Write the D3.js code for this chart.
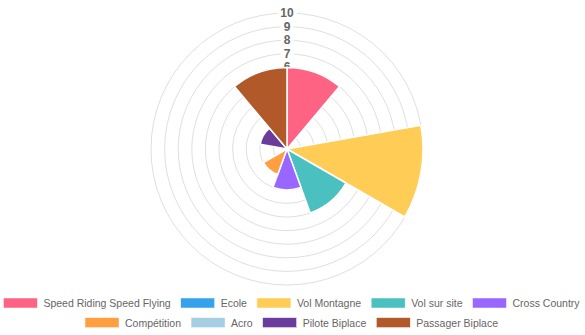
<!DOCTYPE html>
<html>
<head>
<meta charset="utf-8">
<script src="https://cdn.jsdelivr.net/npm/d3@7"></script>
<style>
html,body{margin:0;padding:0;background:#fff;}
svg{display:block;}
</style>
</head>
<body>
<svg id="chart" width="585" height="335"></svg>
<script>
const categories = ["Speed Riding Speed Flying","Ecole","Vol Montagne","Vol sur site","Cross Country","Compétition","Acro","Pilote Biplace","Passager Biplace"];
const values = [6, 0, 10, 5, 3, 2, 0, 2, 6];
const colors = ["#ff6384","#36a2eb","#ffcd56","#4bc0c0","#9966ff","#ff9f40","#a6cee3","#6a3d9a","#b15928"];
const ticks = [1,2,3,4,5,6,7,8,9,10];

const W = 585, H = 335;
const cx = 287, cy = 149, R = 136;
const svg = d3.select("#chart");
const font = "'Liberation Sans', Arial, Helvetica, sans-serif";

const r = d3.scaleLinear().domain([0, 10]).range([0, R]);
const angle = d3.scaleBand().domain(categories).range([0, 2 * Math.PI]).padding(0);

const g = svg.append("g").attr("transform", `translate(${cx},${cy})`);

// grid circles
g.selectAll("circle.grid").data(ticks).enter().append("circle")
  .attr("class", "grid")
  .attr("r", d => r(d))
  .attr("fill", "none")
  .attr("stroke", "rgba(0,0,0,0.13)")
  .attr("stroke-width", 1);

// tick labels with backdrops
const tl = g.selectAll("g.tick").data(ticks).enter().append("g").attr("class", "tick")
  .attr("transform", d => `translate(0,${-r(d)})`);
tl.append("text")
  .attr("text-anchor", "middle")
  .attr("dominant-baseline", "central")
  .attr("font-family", font)
  .attr("font-size", 12)
  .attr("font-weight", "bold")
  .attr("fill", "#666")
  .text(d => d)
  .each(function() {
    const bb = this.getBBox();
    d3.select(this.parentNode).insert("rect", "text")
      .attr("x", bb.x - 3).attr("y", bb.y + 1)
      .attr("width", bb.width + 6).attr("height", bb.height - 2)
      .attr("fill", "#fff");
  });

// slices
const arc = d3.arc()
  .innerRadius(0)
  .outerRadius(d => r(d.v))
  .startAngle(d => angle(d.c))
  .endAngle(d => angle(d.c) + angle.bandwidth());

const data = categories.map((c, i) => ({c, v: values[i], col: colors[i]}));
g.selectAll("path.slice").data(data).enter().append("path")
  .attr("class", "slice")
  .attr("d", arc)
  .attr("fill", d => d.col)
  .attr("stroke", "#fff")
  .attr("stroke-width", 1.5)
  .attr("stroke-linejoin", "round");

// legend
const fs = 10.5, boxW = 34, boxH = 10, textGap = 6, itemGap = 10, rowH = 19.6, legY = 303;
const rowSizes = [5, 4];
const leg = svg.append("g");
const measure = leg.append("text").attr("font-family", font).attr("font-size", fs).attr("visibility", "hidden");
const items = data.map(d => {
  measure.text(d.c);
  return {...d, tw: measure.node().getComputedTextLength()};
});
measure.remove();
const rows = [];
let start = 0;
rowSizes.forEach(n => {
  const its = items.slice(start, start + n);
  start += n;
  const w = d3.sum(its, it => boxW + textGap + it.tw) + itemGap * (its.length - 1);
  rows.push({items: its, w});
});
rows.forEach((row, ri) => {
  let x = (W - row.w) / 2 - 1;
  const y = legY + ri * rowH;
  row.items.forEach(it => {
    leg.append("rect").attr("x", x).attr("y", y - boxH / 2).attr("width", boxW).attr("height", boxH)
      .attr("fill", it.col).attr("stroke", "#fff").attr("stroke-width", 0.5);
    leg.append("text").attr("x", x + boxW + textGap).attr("y", y)
      .attr("dominant-baseline", "central")
      .attr("font-family", font).attr("font-size", fs).attr("fill", "#666")
      .text(it.c);
    x += boxW + textGap + it.tw + itemGap;
  });
});
</script>
</body>
</html>
